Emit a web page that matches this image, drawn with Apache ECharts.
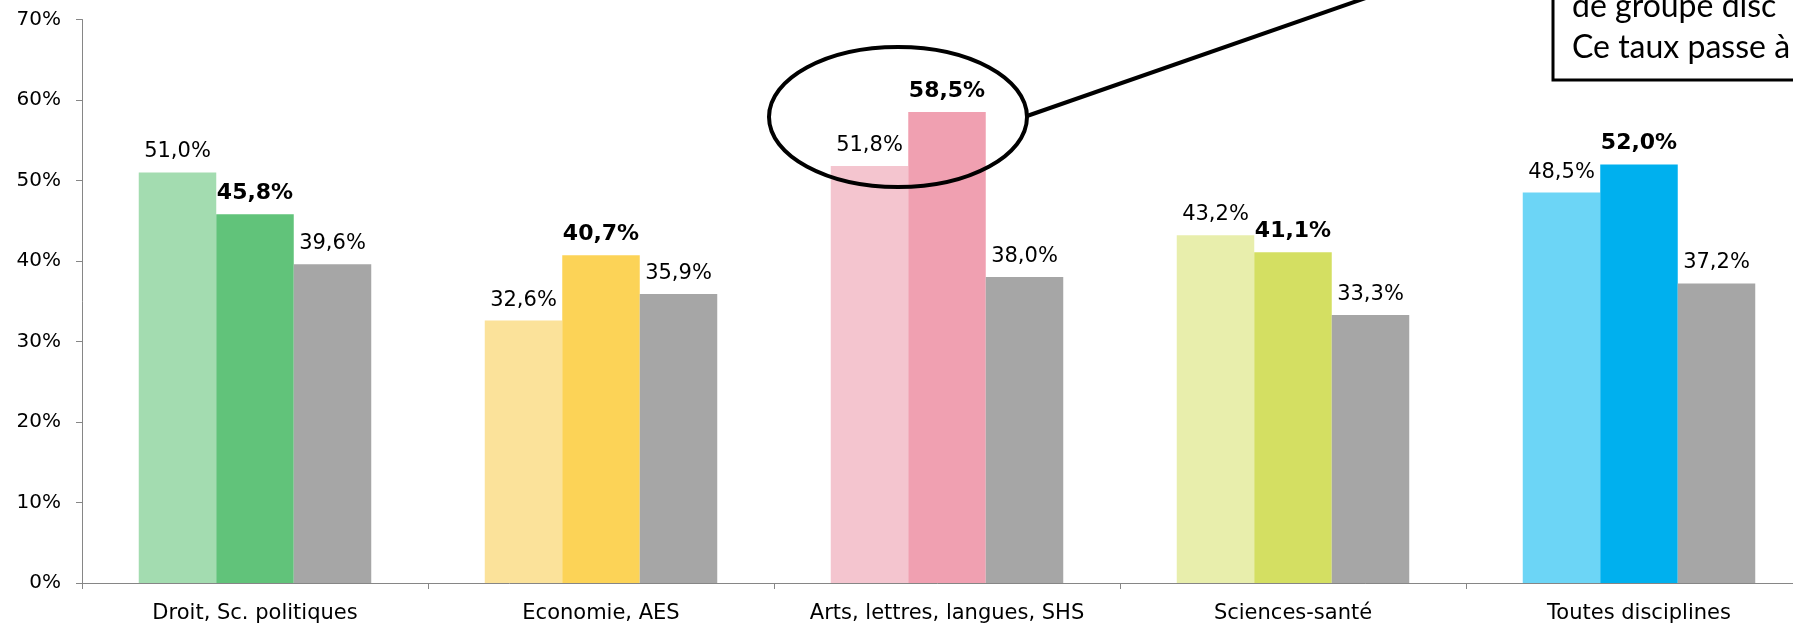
<!DOCTYPE html>
<html><head><meta charset="utf-8">
<script src="https://cdn.jsdelivr.net/npm/echarts@6/dist/echarts.min.js"></script>
<style>html,body{margin:0;padding:0;background:#fff}#c{width:1793px;height:623px}</style>
</head><body><div id="c"></div>
<script>
const categories = ['Droit, Sc. politiques', 'Economie, AES', 'Arts, lettres, langues, SHS', 'Sciences-santé', 'Toutes disciplines'];
const seriesA = [51.0, 32.6, 51.8, 43.2, 48.5];
const seriesB = [45.8, 40.7, 58.5, 41.1, 52.0];
const seriesC = [39.6, 35.9, 38.0, 33.3, 37.2];
const colorsA = ['#A3DCB0', '#FBE29A', '#F4C5CF', '#E8EEAC', '#6CD5F6'];
const colorsB = ['#61C37A', '#FCD357', '#F0A0B1', '#D4DF62', '#00B0EE'];
const colorC = '#A6A6A6';
const yTicks = [0, 10, 20, 30, 40, 50, 60, 70];

const fmt = v => v.toFixed(1).replace('.', ',') + '%';
const chart = echarts.init(document.getElementById('c'));
const lbl = (bold) => ({
  show: true, position: 'top', distance: 10, color: '#000',
  fontFamily: 'DejaVu Sans', fontSize: bold ? 22 : 21, fontWeight: bold ? 'bold' : 'normal',
  formatter: p => fmt(p.value)
});
chart.setOption({
  animation: false,
  grid: { left: 82, width: 1730, top: 19.5, bottom: 40, containLabel: false, outerBoundsMode: 'none' },
  xAxis: {
    type: 'category', data: categories,
    axisLine: { lineStyle: { color: '#868686', width: 1 } },
    axisTick: { show: true, length: 6, lineStyle: { color: '#868686' } },
    axisLabel: { color: '#000', fontFamily: 'DejaVu Sans', fontSize: 21, margin: 20, interval: 0 }
  },
  yAxis: {
    type: 'value', min: yTicks[0], max: yTicks[yTicks.length - 1], interval: 10,
    axisLine: { show: true, lineStyle: { color: '#868686', width: 1 } },
    axisTick: { show: true, length: 6, lineStyle: { color: '#868686' } },
    splitLine: { show: false },
    axisLabel: { color: '#000', fontFamily: 'DejaVu Sans', fontSize: 20, margin: 21, formatter: v => v + '%' }
  },
  series: [
    { type: 'bar', barWidth: 77.5, barGap: '0%', data: seriesA.map((v, i) => ({ value: v, itemStyle: { color: colorsA[i] } })), label: lbl(false) },
    { type: 'bar', barWidth: 77.5, barGap: '0%', data: seriesB.map((v, i) => ({ value: v, itemStyle: { color: colorsB[i] } })), label: lbl(true) },
    { type: 'bar', barWidth: 77.5, barGap: '0%', data: seriesC.map(v => ({ value: v, itemStyle: { color: colorC } })), label: lbl(false) }
  ],
  graphic: [
    { type: 'ellipse', shape: { cx: 898, cy: 117, rx: 129, ry: 70 }, style: { fill: null, stroke: '#000', lineWidth: 4 }, z: 100 },
    { type: 'line', shape: { x1: 1027, y1: 116, x2: 1380, y2: -7 }, style: { stroke: '#000', lineWidth: 4 }, z: 100 },
    { type: 'rect', shape: { x: 1553, y: -100, width: 400, height: 180 }, style: { fill: '#fff', stroke: '#000', lineWidth: 3 }, z: 100 },
    { type: 'text', x: 1572, y: 23, style: { text: 'de groupe disc', font: '32px Lato', fill: '#000', textVerticalAlign: 'bottom' }, z: 101 },
    { type: 'text', x: 1572, y: 64, style: { text: 'Ce taux passe à', font: '32px Lato', fill: '#000', textVerticalAlign: 'bottom' }, z: 101 }
  ]
});
</script></body></html>
